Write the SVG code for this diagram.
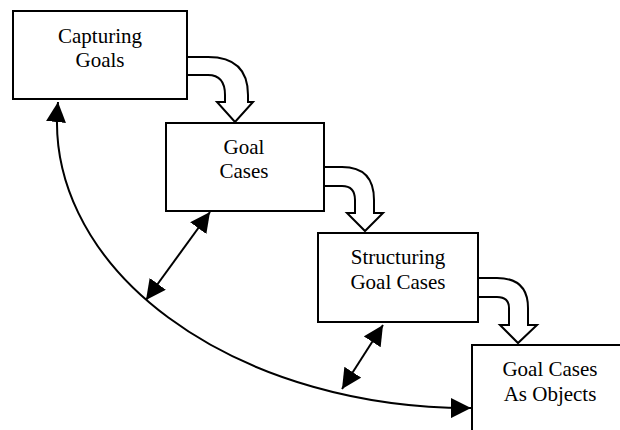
<svg xmlns="http://www.w3.org/2000/svg" width="620" height="430" viewBox="0 0 620 430">
<style>
.box{fill:#fff;stroke:#000;stroke-width:2}
.lbl{font-family:"Liberation Serif",serif;font-size:21px;fill:#000;text-anchor:middle}
.block{fill:#fff;stroke:#000;stroke-width:2;stroke-linejoin:miter}
.link{fill:none;stroke:#000;stroke-width:2}
</style>
<defs>
<marker id="head" viewBox="0 0 20 20" refX="20" refY="10" markerWidth="20" markerHeight="20" markerUnits="userSpaceOnUse" orient="auto-start-reverse">
<path d="M0,0 L20,10 L0,20 Z" fill="#000"/>
</marker>
</defs>
<rect width="620" height="430" fill="#fff"/>
<g id="connectors">
<path class="block" d="M188,57 L208,57 Q248,57 248,95 L248,102 L253,102 L235,122 L217,102 L225,102 L225,95 Q225,75 208,75 L188,75"/>
<path class="block" d="M324,167 L342,167 Q374,167 374,200 L374,213 L383,213 L365,231 L347,213 L355,213 L355,200 Q355,186 342,186 L324,186"/>
<path class="block" d="M478,278 L497,278 Q528,278 528,308 L528,325 L537,325 L518,343 L500,325 L509,325 L509,308 Q509,297 497,297 L478,297"/>
<path class="link" d="M58,102 A412,286 0 0 0 471,408" marker-start="url(#head)" marker-end="url(#head)"/>
<path class="link" d="M210,212 L146,300" marker-start="url(#head)" marker-end="url(#head)"/>
<path class="link" d="M383,325 L342,389" marker-start="url(#head)" marker-end="url(#head)"/>
</g>
<g id="capturing-goals">
<rect class="box" x="13" y="11" width="174" height="88"/>
<text class="lbl" x="100" y="43">Capturing</text>
<text class="lbl" x="100" y="67">Goals</text>
</g>
<g id="goal-cases">
<rect class="box" x="166" y="123" width="158" height="88"/>
<text class="lbl" x="244" y="154">Goal</text>
<text class="lbl" x="244" y="178">Cases</text>
</g>
<g id="structuring-goal-cases">
<rect class="box" x="318" y="233" width="160" height="89"/>
<text class="lbl" x="398" y="264">Structuring</text>
<text class="lbl" x="398" y="289">Goal Cases</text>
</g>
<g id="goal-cases-as-objects">
<rect class="box" x="472" y="345" width="160" height="100"/>
<text class="lbl" x="550" y="376">Goal Cases</text>
<text class="lbl" x="550" y="401">As Objects</text>
</g>
</svg>
